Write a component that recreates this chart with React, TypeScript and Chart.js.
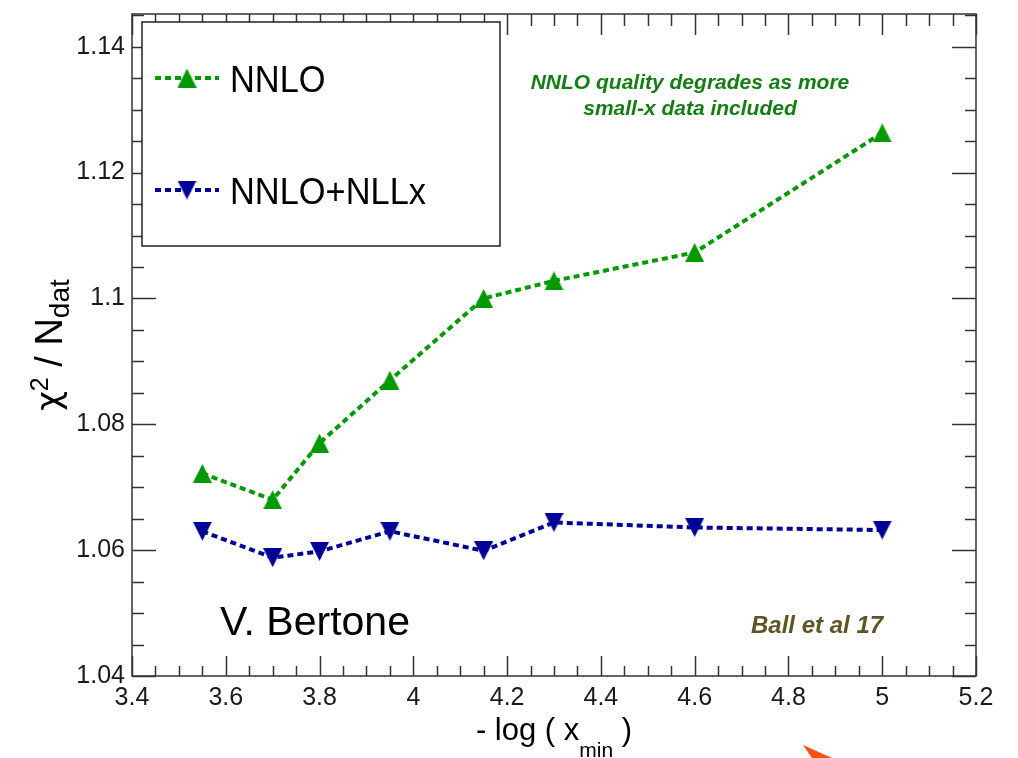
import React, { useEffect, useRef } from "react";
import { Chart, registerables } from "chart.js";

Chart.register(...registerables);

// ---- data ----
const xValues = [3.55, 3.7, 3.8, 3.95, 4.15, 4.3, 4.6, 5.0];
const nnloValues = [1.0722, 1.068, 1.077, 1.087, 1.1, 1.1028, 1.1073, 1.1263];
const nnloNllxValues = [1.063, 1.0588, 1.0598, 1.063, 1.0599, 1.0644, 1.0636, 1.0632];
const seriesLabels = ["NNLO", "NNLO+NLLx"];
const xTickValues = [3.4, 3.6, 3.8, 4.0, 4.2, 4.4, 4.6, 4.8, 5.0, 5.2];
const yTickValues = [1.04, 1.06, 1.08, 1.1, 1.12, 1.14];
const annotationLines = ["NNLO quality degrades as more", "small-x data included"];
const creditText = "V. Bertone";
const referenceText = "Ball et al 17";

const FONT = '"Liberation Sans", Arial, Helvetica, sans-serif';
const GREEK_FONT = '"DejaVu Sans", "Liberation Sans", sans-serif';
const GREEN = "#009a00";
const BLUE = "#000099";

function fmt(v: number | string): string {
  return String(Number(Number(v).toFixed(3)));
}

function makeTriangle(color: string, down: boolean): HTMLCanvasElement {
  const c = document.createElement("canvas");
  c.width = 19;
  c.height = 19;
  const g = c.getContext("2d")!;
  g.fillStyle = color;
  g.beginPath();
  if (!down) {
    g.moveTo(9.5, 0);
    g.lineTo(19, 19);
    g.lineTo(0, 19);
  } else {
    g.moveTo(0, 0);
    g.lineTo(19, 0);
    g.lineTo(9.5, 19);
  }
  g.closePath();
  g.fill();
  return c;
}

function zeroPadding(s: any) {
  s.paddingTop = 0;
  s.paddingBottom = 0;
  s.paddingLeft = 0;
  s.paddingRight = 0;
}

export default function App() {
  const ref = useRef<HTMLCanvasElement | null>(null);

  useEffect(() => {
    const canvas = ref.current;
    if (!canvas) return;
    const upMarker = makeTriangle(GREEN, false);
    const downMarker = makeTriangle(BLUE, true);

    const overlay = {
      id: "overlay",
      afterDraw(chart: any) {
        const ctx: CanvasRenderingContext2D = chart.ctx;
        const { left, right, top, bottom } = chart.chartArea;
        const xs = chart.scales.x;
        const ys = chart.scales.y;
        ctx.save();

        // frame
        ctx.strokeStyle = "#333";
        ctx.lineWidth = 1.5;
        ctx.setLineDash([]);
        ctx.strokeRect(left, top, right - left, bottom - top);

        const seg = (x1: number, y1: number, x2: number, y2: number) => {
          ctx.beginPath();
          ctx.moveTo(x1, y1);
          ctx.lineTo(x2, y2);
          ctx.stroke();
        };

        // x ticks (major 0.2, minor 0.05)
        for (let i = 0; ; i++) {
          const v = xs.min + i * 0.05;
          if (v > xs.max + 1e-9) break;
          const major = i % 4 === 0;
          const px = Math.round(xs.getPixelForValue(v)) + 0.5;
          seg(px, bottom, px, bottom - (major ? 20 : 10));
          seg(px, top, px, top + (major ? 21 : 12));
        }
        // y ticks (major 0.02, minor 0.005)
        for (let i = 0; ; i++) {
          const v = ys.min + i * 0.005;
          if (v > ys.max + 1e-9) break;
          const major = i % 4 === 0;
          const py = Math.round(ys.getPixelForValue(v)) + 0.5;
          seg(left, py, left + (major ? 24 : 12), py);
          seg(right, py, right - (major ? 24 : 11), py);
        }

        // legend
        const bx = 142, by = 22, bw = 358, bh = 224;
        ctx.fillStyle = "#fff";
        ctx.fillRect(bx, by, bw, bh);
        ctx.strokeStyle = "#222";
        ctx.lineWidth = 1.5;
        ctx.strokeRect(bx, by, bw, bh);
        const rows = [78, 190];
        const markers = [upMarker, downMarker];
        chart.data.datasets.forEach((ds: any, i: number) => {
          const yy = rows[i];
          ctx.strokeStyle = ds.borderColor;
          ctx.lineWidth = 4;
          ctx.setLineDash([6, 4]);
          seg(155, yy, 219, yy);
          ctx.setLineDash([]);
          const m = markers[i];
          ctx.drawImage(m, 187 - m.width / 2, yy - m.height / 2);
          ctx.fillStyle = "#000";
          ctx.font = `37px ${FONT}`;
          ctx.textAlign = "left";
          ctx.textBaseline = "alphabetic";
          ctx.save();
          ctx.translate(230, yy + 14);
          ctx.scale(0.93, 1);
          ctx.fillText(ds.label, 0, 0);
          ctx.restore();
        });

        // annotation
        ctx.fillStyle = "rgb(20,125,20)";
        ctx.font = `italic bold 21px ${FONT}`;
        ctx.textAlign = "center";
        ctx.fillText(annotationLines[0], 690, 89);
        ctx.fillText(annotationLines[1], 690, 115);

        // credit and reference
        ctx.fillStyle = "#000";
        ctx.font = `41px ${FONT}`;
        ctx.textAlign = "left";
        ctx.fillText(creditText, 220, 635);
        ctx.fillStyle = "rgb(95,85,35)";
        ctx.font = `italic bold 24px ${FONT}`;
        ctx.fillText(referenceText, 751, 633);

        // x title: - log ( x_min )
        {
          const cx = (left + right) / 2;
          const parts = [
            { t: "- log ( x", size: 31, dy: 0 },
            { t: "min", size: 21, dy: 17 },
            { t: " )", size: 31, dy: 0 },
          ];
          let total = 0;
          const widths = parts.map((p) => {
            ctx.font = `${p.size}px ${FONT}`;
            const w = ctx.measureText(p.t).width;
            total += w;
            return w;
          });
          let x = cx - total / 2;
          ctx.fillStyle = "#000";
          ctx.textAlign = "left";
          parts.forEach((p, i) => {
            ctx.font = `${p.size}px ${FONT}`;
            ctx.fillText(p.t, x, 740 + p.dy);
            x += widths[i];
          });
        }

        // y title: chi^2 / N_dat
        {
          const cy = (top + bottom) / 2;
          ctx.save();
          ctx.translate(62, cy);
          ctx.rotate(-Math.PI / 2);
          const parts = [
            { t: "χ", size: 34, dy: -2, f: GREEK_FONT },
            { t: "2", size: 25, dy: -14, f: FONT },
            { t: " / N", size: 38, dy: 0, f: FONT },
            { t: "dat", size: 28, dy: 7, f: FONT },
          ];
          let total = 0;
          const widths = parts.map((p) => {
            ctx.font = `${p.size}px ${p.f}`;
            const w = ctx.measureText(p.t).width;
            total += w;
            return w;
          });
          let x = -total / 2;
          ctx.fillStyle = "#000";
          ctx.textAlign = "left";
          parts.forEach((p, i) => {
            ctx.font = `${p.size}px ${p.f}`;
            ctx.fillText(p.t, x, p.dy);
            x += widths[i];
          });
          ctx.restore();
        }

        // small orange arrowhead at the bottom edge
        ctx.fillStyle = "rgb(255,80,20)";
        ctx.beginPath();
        ctx.moveTo(803, 745);
        ctx.lineTo(832, 758);
        ctx.lineTo(812, 758);
        ctx.closePath();
        ctx.fill();

        ctx.restore();
      },
    };

    const chart = new Chart(canvas, {
      type: "line",
      data: {
        datasets: [
          {
            label: seriesLabels[0],
            data: xValues.map((x, i) => ({ x, y: nnloValues[i] })),
            borderColor: GREEN,
            backgroundColor: GREEN,
            borderWidth: 4,
            borderDash: [6, 4],
            pointStyle: upMarker,
            pointRadius: 10,
            tension: 0,
            fill: false,
          },
          {
            label: seriesLabels[1],
            data: xValues.map((x, i) => ({ x, y: nnloNllxValues[i] })),
            borderColor: BLUE,
            backgroundColor: BLUE,
            borderWidth: 4,
            borderDash: [6, 4],
            pointStyle: downMarker,
            pointRadius: 10,
            tension: 0,
            fill: false,
          },
        ],
      },
      options: {
        animation: false,
        responsive: false,
        devicePixelRatio: 1,
        events: [],
        layout: { padding: { top: 13, right: 42, left: 0, bottom: 0 } },
        plugins: {
          legend: { display: false },
          tooltip: { enabled: false },
        },
        scales: {
          x: {
            type: "linear",
            min: 3.4,
            max: 5.2,
            grid: { display: false, drawTicks: false },
            border: { display: false },
            afterBuildTicks: (s: any) => {
              s.ticks = xTickValues.map((v) => ({ value: v }));
            },
            afterFit: (s: any) => {
              s.height = 82;
              zeroPadding(s);
            },
            ticks: {
              padding: 7,
              color: "#1a1a1a",
              autoSkip: false,
              maxRotation: 0,
              font: { family: FONT, size: 25 },
              callback: (v: any) => fmt(v),
            },
          },
          y: {
            type: "linear",
            min: 1.04,
            max: 1.1452,
            grid: { display: false, drawTicks: false },
            border: { display: false },
            afterBuildTicks: (s: any) => {
              s.ticks = yTickValues.map((v) => ({ value: v }));
            },
            afterFit: (s: any) => {
              s.width = 132;
              zeroPadding(s);
            },
            ticks: {
              padding: 7,
              color: "#1a1a1a",
              autoSkip: false,
              font: { family: FONT, size: 25 },
              callback: (v: any) => fmt(v),
            },
          },
        },
      } as any,
      plugins: [overlay],
    });

    return () => {
      chart.destroy();
    };
  }, []);

  return (
    <div
      style={{
        position: "fixed",
        left: 0,
        top: 0,
        width: 1018,
        height: 758,
        background: "#fff",
      }}
    >
      <canvas ref={ref} width={1018} height={758} style={{ display: "block" }} />
    </div>
  );
}
